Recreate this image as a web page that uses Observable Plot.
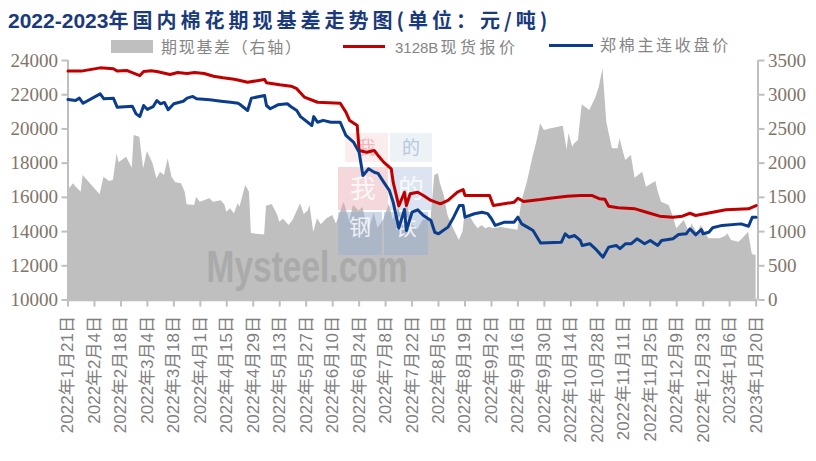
<!DOCTYPE html>
<html><head><meta charset="utf-8">
<script src="https://cdn.jsdelivr.net/npm/d3@7"></script>
<script src="https://cdn.jsdelivr.net/npm/@observablehq/plot@0.6"></script>
<style>
body{margin:0;background:#fff;}
#wrap{position:relative;width:816px;height:461px;overflow:hidden;background:#fff;}
#chart{position:absolute;left:0;top:0;}
.abs{position:absolute;white-space:nowrap;}
#title{left:8px;top:8px;line-height:24px;font-weight:bold;color:#1a3a7c;}
#title .num{font-family:"Liberation Sans",Arial,sans-serif;font-size:21px;}
#title .cjk{font-family:"Noto Sans CJK SC",sans-serif;font-size:20px;letter-spacing:4px;}
.lg{color:#858585;font-family:"Noto Sans CJK SC",sans-serif;font-size:16px;line-height:20px;}
</style></head>
<body><div id="wrap">
<div id="chart"></div>
<div id="title" class="abs"><span class="num">2022-2023</span><span class="cjk">年国内棉花期现基差走势图(单位：元/吨)</span></div>
<div class="abs" style="left:111px;top:40px;width:42px;height:13px;background:#bfbfbf;"></div>
<div class="abs lg" style="left:161px;top:36px;letter-spacing:1.7px;">期现基差（右轴）</div>
<div class="abs" style="left:343px;top:45px;width:42px;height:3px;background:#c00000;"></div>
<div class="abs lg" style="left:395px;top:36px;"><span style="font-family:'Liberation Sans',Arial,sans-serif;font-size:15px;">3128B</span><span style="letter-spacing:3.5px;margin-left:2px;">现货报价</span></div>
<div class="abs" style="left:549px;top:44px;width:44px;height:3px;background:#0b3d8c;"></div>
<div class="abs lg" style="left:600px;top:34px;letter-spacing:2.7px;">郑棉主连收盘价</div>
</div>
<script>
// 3128B现货报价 (元/吨)
const spotDates = ["2022-01-21","2022-01-28","2022-02-07","2022-02-14","2022-02-16","2022-02-21","2022-02-28","2022-03-02","2022-03-06","2022-03-09","2022-03-16","2022-03-20","2022-03-25","2022-03-29","2022-04-03","2022-04-08","2022-04-13","2022-04-19","2022-04-22","2022-04-26","2022-05-05","2022-05-06","2022-05-13","2022-05-19","2022-05-22","2022-05-26","2022-06-02","2022-06-14","2022-06-17","2022-06-19","2022-06-23","2022-06-24","2022-06-28","2022-07-02","2022-07-04","2022-07-07","2022-07-11","2022-07-12","2022-07-15","2022-07-18","2022-07-19","2022-07-21","2022-07-25","2022-07-28","2022-08-01","2022-08-06","2022-08-10","2022-08-15","2022-08-18","2022-08-19","2022-09-01","2022-09-03","2022-09-14","2022-09-16","2022-09-19","2022-09-28","2022-10-03","2022-10-12","2022-10-19","2022-10-25","2022-10-29","2022-11-01","2022-11-03","2022-11-08","2022-11-17","2022-11-23","2022-11-30","2022-12-07","2022-12-12","2022-12-16","2022-12-19","2022-12-28","2023-01-04","2023-01-16","2023-01-20"];
const spotValues = [23380,23380,23570,23520,23380,23420,23120,23360,23400,23360,23180,23300,23240,23300,23240,23080,22990,22900,22830,22730,22890,22700,22580,22500,22350,21860,21560,21500,20980,20490,20200,18740,18640,18740,18450,18060,17670,16890,15500,16300,15520,16210,16300,16110,15820,15620,15820,16300,16460,16110,16110,15520,15720,15950,15760,15870,15950,16070,16110,16110,15920,15890,15480,15390,15330,15130,14900,14840,14900,15070,14940,15130,15270,15330,15520];

// 郑棉主连收盘价 (元/吨)
const futDates = ["2022-01-21","2022-01-25","2022-01-27","2022-01-29","2022-02-07","2022-02-09","2022-02-14","2022-02-16","2022-02-24","2022-02-26","2022-02-28","2022-03-02","2022-03-04","2022-03-07","2022-03-09","2022-03-11","2022-03-13","2022-03-15","2022-03-18","2022-03-23","2022-03-25","2022-03-28","2022-03-30","2022-04-06","2022-04-12","2022-04-17","2022-04-21","2022-04-22","2022-04-26","2022-04-28","2022-05-05","2022-05-06","2022-05-08","2022-05-12","2022-05-17","2022-05-19","2022-05-22","2022-05-24","2022-05-30","2022-05-31","2022-06-02","2022-06-05","2022-06-09","2022-06-14","2022-06-17","2022-06-21","2022-06-24","2022-06-26","2022-06-27","2022-06-29","2022-07-02","2022-07-04","2022-07-07","2022-07-10","2022-07-12","2022-07-15","2022-07-18","2022-07-19","2022-07-22","2022-07-25","2022-07-28","2022-08-01","2022-08-03","2022-08-05","2022-08-10","2022-08-13","2022-08-16","2022-08-18","2022-08-19","2022-08-24","2022-08-28","2022-08-31","2022-09-02","2022-09-04","2022-09-09","2022-09-14","2022-09-16","2022-09-18","2022-09-21","2022-09-24","2022-09-28","2022-10-09","2022-10-11","2022-10-13","2022-10-16","2022-10-19","2022-10-20","2022-10-24","2022-10-27","2022-10-31","2022-11-03","2022-11-07","2022-11-09","2022-11-12","2022-11-15","2022-11-18","2022-11-22","2022-11-25","2022-11-29","2022-12-01","2022-12-07","2022-12-10","2022-12-14","2022-12-16","2022-12-19","2022-12-22","2022-12-23","2022-12-26","2022-12-28","2023-01-02","2023-01-12","2023-01-16","2023-01-18","2023-01-20"];
const futValues = [21720,21660,21800,21500,22050,21760,21800,21270,21330,20880,20730,21370,21140,21300,21660,21470,21550,21120,21470,21620,21800,21900,21760,21700,21620,21560,21500,21430,21080,21800,21950,21370,21180,21410,21470,21300,21080,20720,20200,20720,20390,20500,20390,20390,19620,19230,18640,17280,17400,17670,17470,17400,16890,16400,15720,14200,15300,14060,15130,15270,14940,14650,13960,13870,14260,14840,15520,15520,14840,15040,15130,15050,14750,14360,14550,14550,14840,14450,14260,14060,13330,13380,13870,13670,13770,13480,13190,13290,12990,12500,13090,13190,13000,13290,13290,13580,13290,13480,13190,13480,13580,13830,13870,14160,13810,14120,13870,13960,14220,14360,14450,14310,14840,14840];

// 期现基差 (元/吨, 右轴)
const basisDates = ["2022-01-21","2022-01-24","2022-01-25","2022-01-28","2022-01-29","2022-02-07","2022-02-09","2022-02-12","2022-02-14","2022-02-16","2022-02-17","2022-02-21","2022-02-24","2022-02-25","2022-02-28","2022-03-02","2022-03-04","2022-03-07","2022-03-09","2022-03-11","2022-03-13","2022-03-15","2022-03-17","2022-03-19","2022-03-22","2022-03-24","2022-03-25","2022-03-29","2022-03-30","2022-04-01","2022-04-06","2022-04-08","2022-04-12","2022-04-14","2022-04-15","2022-04-17","2022-04-19","2022-04-21","2022-04-22","2022-04-25","2022-04-27","2022-04-28","2022-05-05","2022-05-06","2022-05-09","2022-05-12","2022-05-13","2022-05-15","2022-05-18","2022-05-20","2022-05-22","2022-05-24","2022-05-26","2022-05-28","2022-05-29","2022-05-31","2022-06-02","2022-06-04","2022-06-07","2022-06-10","2022-06-12","2022-06-16","2022-06-18","2022-06-19","2022-06-21","2022-06-24","2022-06-26","2022-06-29","2022-07-02","2022-07-04","2022-07-07","2022-07-10","2022-07-12","2022-07-15","2022-07-18","2022-07-19","2022-07-22","2022-07-25","2022-07-28","2022-08-01","2022-08-03","2022-08-05","2022-08-06","2022-08-08","2022-08-10","2022-08-13","2022-08-16","2022-08-18","2022-08-19","2022-08-20","2022-08-22","2022-08-24","2022-08-26","2022-08-28","2022-08-30","2022-09-01","2022-09-03","2022-09-07","2022-09-16","2022-09-18","2022-09-21","2022-09-24","2022-09-26","2022-09-28","2022-09-30","2022-10-03","2022-10-10","2022-10-12","2022-10-13","2022-10-15","2022-10-16","2022-10-18","2022-10-20","2022-10-24","2022-10-27","2022-10-29","2022-10-31","2022-11-02","2022-11-05","2022-11-08","2022-11-09","2022-11-12","2022-11-15","2022-11-17","2022-11-21","2022-11-23","2022-11-28","2022-11-29","2022-12-01","2022-12-05","2022-12-07","2022-12-09","2022-12-13","2022-12-16","2022-12-17","2022-12-20","2022-12-22","2022-12-26","2023-01-01","2023-01-04","2023-01-05","2023-01-07","2023-01-11","2023-01-13","2023-01-16","2023-01-18","2023-01-20"];
const basisValues = [1600,1698,1660,1575,1820,1537,1795,1732,1746,2137,2005,2087,1926,2404,2379,1917,2170,1990,1771,1868,1820,2063,1795,1713,1698,1575,1391,1381,1502,1429,1479,1430,1450,1390,1283,1333,1260,1406,1360,1673,1575,970,950,1370,1396,1235,1137,1180,1089,1160,1283,1406,1250,1300,1381,991,1187,1100,1187,1235,1110,1429,1250,1140,1380,1300,1350,1000,1270,1050,1170,1400,1170,1350,1000,1460,1100,1030,1170,1170,1820,1844,1700,1527,1235,1040,870,1000,1260,1180,1210,1110,1040,1090,1040,1064,1040,1060,1020,1429,1722,2090,2306,2575,2477,2500,2540,2190,2429,2233,2283,2330,2852,2769,2940,3100,3379,2598,2210,2210,2356,2039,2112,1780,1868,1648,1732,1600,1429,1381,1235,1040,1162,967,1113,967,1090,894,894,930,967,870,845,900,991,665,650];

// axes
const leftTicks = [10000,12000,14000,16000,18000,20000,22000,24000];
const rightTicks = [0,500,1000,1500,2000,2500,3000,3500];
const xTickDates = ["2022-01-21","2022-02-04","2022-02-18","2022-03-04","2022-03-18","2022-04-01","2022-04-15","2022-04-29","2022-05-13","2022-05-27","2022-06-10","2022-06-24","2022-07-08","2022-07-22","2022-08-05","2022-08-19","2022-09-02","2022-09-16","2022-09-30","2022-10-14","2022-10-28","2022-11-11","2022-11-25","2022-12-09","2022-12-23","2023-01-06","2023-01-20"];
const xDomain = ["2022-01-21","2023-01-21"];

const parse = d3.utcParse("%Y-%m-%d");
const spot = spotDates.map((d,i)=>({date: parse(d), value: spotValues[i]}));
const fut = futDates.map((d,i)=>({date: parse(d), value: futValues[i]}));
const basis = basisDates.map((d,i)=>({date: parse(d), value: basisValues[i]}));
const L = [leftTicks[0], leftTicks[leftTicks.length-1]];
const R = [rightTicks[0], rightTicks[rightTicks.length-1]];
const toLeft = b => L[0] + (b - R[0]) * (L[1]-L[0]) / (R[1]-R[0]);
const fmtDate = d => `${d.getUTCFullYear()}年${d.getUTCMonth()+1}月${d.getUTCDate()}日`;
const xd = xDomain.map(parse);

// decorative watermark (sits between the area and the lines)
function watermark() {
  const g = d3.create("svg:g").attr("pointer-events","none");
  const boxes = [
    {x:345,y:133,w:43,h:29,fill:"#f2c4c8",op:0.3,t:"我",tc:"#e9aab1",fs:18},
    {x:390,y:133,w:42,h:29,fill:"#c5d3e6",op:0.3,t:"的",tc:"#aabcd8",fs:18},
    {x:338,y:167,w:50,h:43,fill:"#e8a3ab",op:0.42,t:"我",tc:"#ffffff",fs:26},
    {x:390,y:167,w:42,h:43,fill:"#a9bedb",op:0.42,t:"的",tc:"#ffffff",fs:26},
    {x:338,y:212,w:44,h:43,fill:"#97aed0",op:0.48,t:"钢",tc:"#ffffff",fs:22},
    {x:384,y:212,w:44,h:43,fill:"#97aed0",op:0.48,t:"铁",tc:"#ffffff",fs:22}
  ];
  for (const b of boxes) {
    g.append("rect").attr("x",b.x).attr("y",b.y).attr("width",b.w).attr("height",b.h).attr("fill",b.fill).attr("opacity",b.op);
    g.append("text").attr("x",b.x+b.w/2).attr("y",b.y+b.h/2 - (b.y===212?6:0)).attr("dy","0.36em").attr("text-anchor","middle")
      .attr("font-family","Noto Sans CJK SC").attr("font-size",b.fs).attr("fill",b.tc).attr("opacity",0.8).text(b.t);
  }
  g.append("text").attr("x",307).attr("y",282).attr("textLength",201).attr("lengthAdjust","spacingAndGlyphs")
    .attr("font-family","Liberation Sans").attr("font-weight","bold").attr("font-size",44).attr("fill","#8c8c8c").attr("opacity",0.4).text("Mysteel.com");
  return g.node();
}

const axisFont = {fontFamily: "Liberation Serif", fontSize: 19};
const chart = Plot.plot({
  width: 816, height: 461,
  marginTop: 60, marginBottom: 161.5, marginLeft: 67.5, marginRight: 58.5,
  x: {type: "utc", domain: xd},
  y: {domain: L, label: null},
  style: {background: "transparent", overflow: "visible"},
  marks: [
    Plot.areaY(basis, {x: "date", y1: L[0], y2: d => toLeft(d.value), fill: "#bfbfbf", curve: "linear"}),
    watermark,
    Plot.ruleY([L[0]], {stroke: "#bfbfbf", strokeWidth: 2.5}),
    Plot.ruleX([xd[0]], {stroke: "#bfbfbf", strokeWidth: 2}),
    Plot.ruleX([xd[1]], {stroke: "#bfbfbf", strokeWidth: 2}),
    Plot.line(spot, {x: "date", y: "value", stroke: "#c00000", strokeWidth: 3, strokeLinejoin: "round"}),
    Plot.line(fut, {x: "date", y: "value", stroke: "#0b3d8c", strokeWidth: 3, strokeLinejoin: "round"}),
    Plot.axisY(leftTicks, {anchor: "left", label: null, tickSize: 6, tickPadding: 4, stroke: "#bfbfbf", strokeWidth: 2, fill: "#807569", tickFormat: d => String(d), ...axisFont}),
    Plot.axisY(rightTicks.map(toLeft), {anchor: "right", label: null, tickSize: 6, tickPadding: 4, stroke: "#bfbfbf", strokeWidth: 2, fill: "#807569", tickFormat: d => String(Math.round((d - L[0]) * (R[1]-R[0]) / (L[1]-L[0]) + R[0])), ...axisFont}),
    Plot.axisX(xTickDates.map(parse), {anchor: "bottom", label: null, tickSize: 7, tickPadding: 9, tickRotate: -90, stroke: "#bfbfbf", strokeWidth: 2, fill: "#7f7f7f", tickFormat: fmtDate, fontFamily: "Liberation Sans, Noto Sans CJK SC", fontSize: 17})
  ]
});
document.getElementById("chart").appendChild(chart);
</script>
</body></html>
